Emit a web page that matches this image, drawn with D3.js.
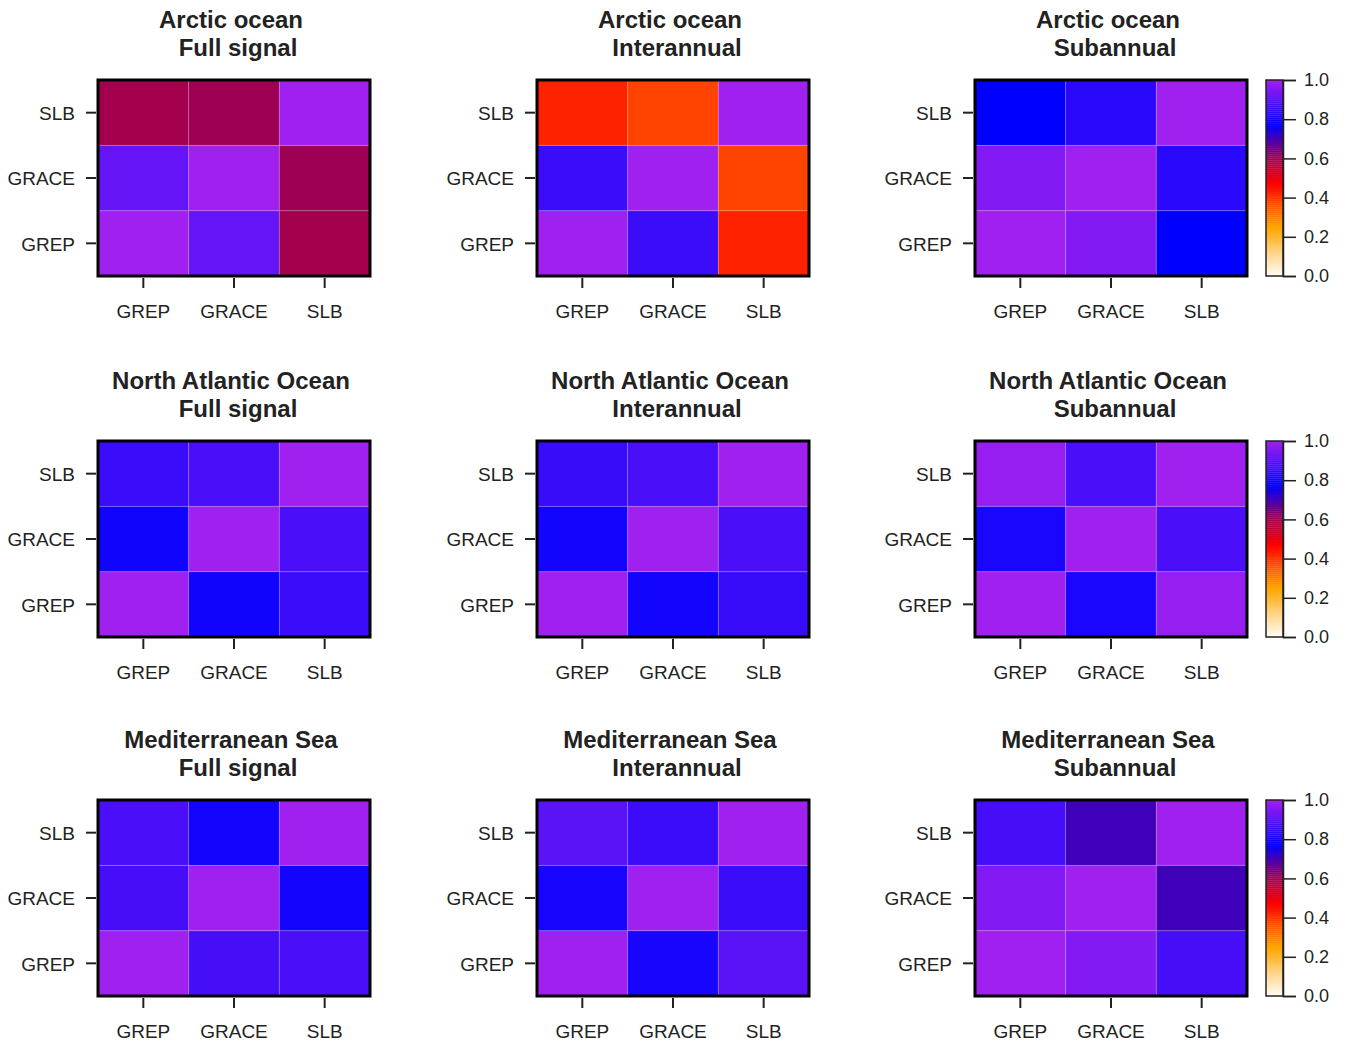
<!DOCTYPE html>
<html><head><meta charset="utf-8">
<script src="https://cdn.jsdelivr.net/npm/d3@7"></script>
<style>body{margin:0;background:#fff}svg{display:block}text{font-family:"Liberation Sans",Arial,sans-serif;fill:#222}</style>
</head><body><svg id="c" width="1350" height="1045"></svg>
<script>
// ---- data ----
const products = ["GREP", "GRACE", "SLB"];
const regions = ["Arctic ocean", "North Atlantic Ocean", "Mediterranean Sea"];
const signals = ["Full signal", "Interannual", "Subannual"];
const legendTicks = [0, 0.2, 0.4, 0.6, 0.8, 1.0];
// correlation matrices, order GREP, GRACE, SLB
const arcticFull        = [[1, 0.914, 0.600], [0.914, 1, 0.605], [0.600, 0.605, 1]];
const arcticInterannual = [[1, 0.853, 0.425], [0.853, 1, 0.380], [0.425, 0.380, 1]];
const arcticSubannual   = [[1, 0.960, 0.770], [0.960, 1, 0.830], [0.770, 0.830, 1]];
const natlFull          = [[1, 0.793, 0.853], [0.793, 1, 0.876], [0.853, 0.876, 1]];
const natlInterannual   = [[1, 0.796, 0.850], [0.796, 1, 0.876], [0.850, 0.876, 1]];
const natlSubannual     = [[1, 0.807, 0.985], [0.807, 1, 0.876], [0.985, 0.876, 1]];
const medFull           = [[1, 0.870, 0.876], [0.870, 1, 0.796], [0.876, 0.796, 1]];
const medInterannual    = [[1, 0.805, 0.900], [0.805, 1, 0.853], [0.900, 0.853, 1]];
const medSubannual      = [[1, 0.960, 0.870], [0.960, 1, 0.704], [0.870, 0.704, 1]];
const matrices = [
  [arcticFull, arcticInterannual, arcticSubannual],
  [natlFull, natlInterannual, natlSubannual],
  [medFull, medInterannual, medSubannual]
];

// ---- layout ----
const svg = d3.select("#c");
const colX = [98, 537, 975];
const rowY = [80, 441, 800];
const W = 272, H = 196;
const color = d3.scaleLinear()
  .domain([0, 0.25, 0.47, 0.6, 0.77, 1])
  .range(["#FFFDF6", "#FFA500", "#FF0000", "#A3004E", "#0000FF", "#A020F0"])
  .clamp(true);
const FONT = "'Liberation Sans',Arial,sans-serif";

regions.forEach((reg, r) => {
  signals.forEach((sig, c) => {
    const g = svg.append("g").attr("transform", `translate(${colX[c]},${rowY[r]})`);
    const x = d3.scaleBand().domain(products).range([0, W]);
    const y = d3.scaleBand().domain(products.slice().reverse()).range([0, H]);
    const m = matrices[r][c];
    const cells = [];
    products.forEach((py, i) => products.forEach((px, j) => cells.push({px, py, v: m[i][j]})));
    g.selectAll("rect.cell").data(cells).enter().append("rect")
      .attr("x", d => x(d.px)).attr("y", d => y(d.py))
      .attr("width", x.bandwidth()).attr("height", y.bandwidth())
      .attr("fill", d => color(d.v))
      .attr("stroke", "rgba(255,255,255,0.15)").attr("stroke-width", 1);
    g.append("rect").attr("x", 0).attr("y", 0).attr("width", W).attr("height", H)
      .attr("fill", "none").attr("stroke", "#000").attr("stroke-width", 3);
    const xa = g.append("g").attr("transform", `translate(0,${H + 2})`)
      .call(d3.axisBottom(x).tickSize(10).tickPadding(17));
    const ya = g.append("g").attr("transform", `translate(-2,0)`)
      .call(d3.axisLeft(y).tickSize(10).tickPadding(11));
    [xa, ya].forEach(a => {
      a.select(".domain").remove();
      a.selectAll("line").attr("stroke", "#222").attr("stroke-width", 2);
      a.selectAll("text").attr("font-size", 19).style("fill", "#222").style("font-family", FONT);
    });
    ya.selectAll("text").attr("dy", "0.38em");
    const cx = W / 2;
    g.append("text").attr("x", cx - 3).attr("y", -52).attr("text-anchor", "middle")
      .attr("font-size", 24).attr("font-weight", "bold").text(reg);
    g.append("text").attr("x", cx + 4).attr("y", -24).attr("text-anchor", "middle")
      .attr("font-size", 24).attr("font-weight", "bold").text(sig);
  });
  // colour bar
  const lg = svg.append("g").attr("transform", `translate(1266,${rowY[r]})`);
  const ly = d3.scaleLinear().domain([0, 1]).range([H, 0]);
  const steps = d3.range(0, 1, 0.01);
  lg.selectAll("rect.s").data(steps).enter().append("rect")
    .attr("x", 0).attr("width", 17)
    .attr("y", d => ly(d + 0.01)).attr("height", ly(0) - ly(0.01) + 0.3)
    .attr("fill", d => color(d + 0.005));
  lg.append("rect").attr("x", 0).attr("y", 0).attr("width", 17).attr("height", H)
    .attr("fill", "none").attr("stroke", "#222").attr("stroke-width", 1.5);
  const la = lg.append("g").attr("transform", "translate(17,0)")
    .call(d3.axisRight(ly).tickValues(legendTicks).tickFormat(d3.format(".1f")).tickSize(13).tickPadding(8));
  la.select(".domain").attr("stroke", "#222").attr("stroke-width", 1.5);
  la.selectAll("line").attr("stroke", "#222").attr("stroke-width", 1.5);
  la.selectAll("text").attr("font-size", 18).style("fill", "#222").style("font-family", FONT);
});
</script></body></html>
